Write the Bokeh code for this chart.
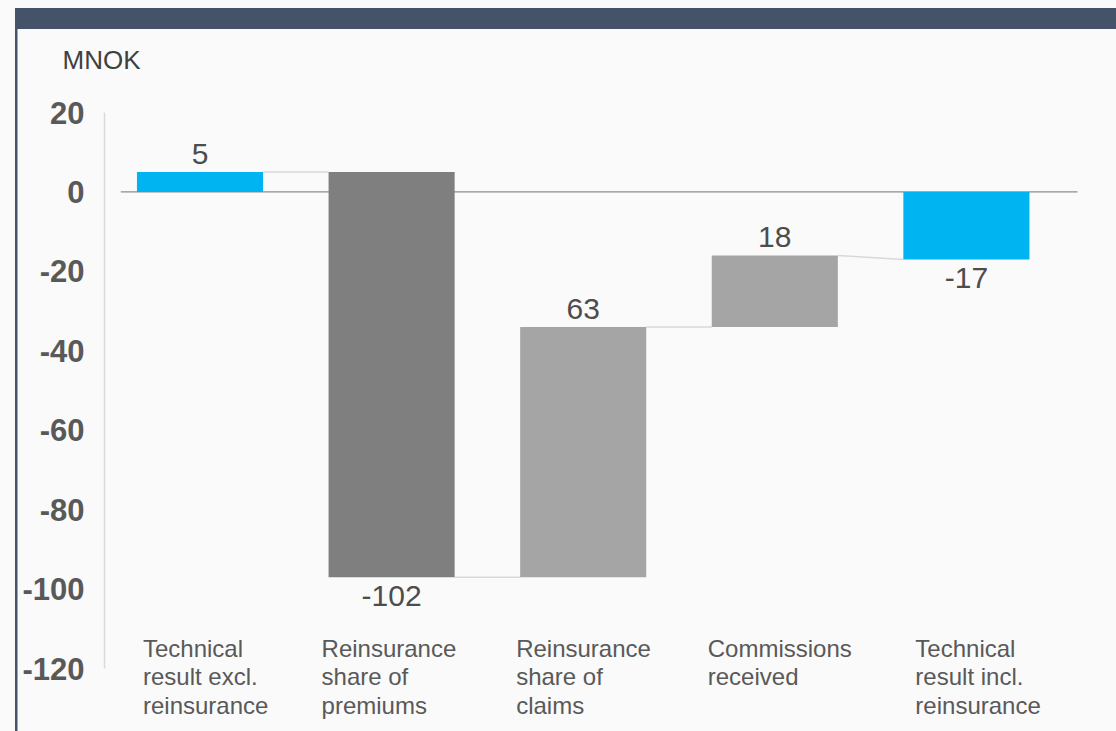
from bokeh.plotting import figure
from bokeh.models import Range1d, LinearAxis, FixedTicker, Title, ColumnDataSource
from bokeh.core.properties import value
from bokeh.embed import file_html
from bokeh.resources import INLINE

# ---------------- data ----------------
categories = [
    "Technical\nresult excl.\nreinsurance",
    "Reinsurance\nshare of\npremiums",
    "Reinsurance\nshare of\nclaims",
    "Commissions\nreceived",
    "Technical\nresult incl.\nreinsurance",
]
values = [5, -102, 63, 18, -17]
is_total = [True, False, False, False, True]
y_ticks = [-120, -100, -80, -60, -40, -20, 0, 20]
unit_label = "MNOK"

# ---------------- styles ----------------
bar_colors = ["#00b4f2", "#7f7f7f", "#a5a5a5", "#a5a5a5", "#00b4f2"]
label_dx = [6, -7, -4, -4, 12]          # px shift of category text from bar left
FONT = "Liberation Sans"
BAR_W = 0.658
HEADER = "#445369"
BG = "#fafafa"
W, H = 1116, 731
FRAME_LEFT, FRAME_TOP = 104, 90

# ---------------- waterfall geometry ----------------
bottoms, tops, ends = [], [], []
running = 0.0
for v, tot in zip(values, is_total):
    if tot:
        start, end = 0.0, v
    else:
        start, end = running, running + v
    running = end
    bottoms.append(min(start, end))
    tops.append(max(start, end))
    ends.append(end)

xs = list(range(len(values)))
src = ColumnDataSource(dict(x=xs, top=tops, bottom=bottoms, color=bar_colors))

# y scale: 20 -> px 112, -120 -> px 668
ppu = (668 - 112) / 140.0
y0_px = 112 + 20 * ppu
y_top = (y0_px - FRAME_TOP) / ppu
y_bot = (y0_px - H) / ppu
# x scale: category i center at px 199.5 + 191.6*i
step = 191.6
x_left = (FRAME_LEFT - 199.5) / step
x_right = (W - 199.5) / step

bg_css = (f"linear-gradient({HEADER},{HEADER}) 15px 8px / 1101px 21px no-repeat, "
          f"linear-gradient({HEADER},{HEADER}) 15px 29px / 2.5px 702px no-repeat, {BG}")

p = figure(width=W, height=H, output_backend="svg", toolbar_location=None,
           x_range=Range1d(x_left, x_right), y_range=Range1d(y_bot, y_top),
           x_axis_type=None, y_axis_type=None,
           min_border_left=FRAME_LEFT, min_border_right=0,
           min_border_top=FRAME_TOP, min_border_bottom=0,
           styles={"background": bg_css})
p.background_fill_color = BG
p.border_fill_alpha = 0
p.outline_line_color = None
p.xgrid.visible = False
p.ygrid.visible = False

p.title = Title(text=unit_label, align="left", offset=-42, standoff=32,
                text_font=FONT, text_font_size="26px", text_font_style="normal",
                text_color="#404040")

yaxis = LinearAxis(bounds=(min(y_ticks), max(y_ticks)))
yaxis.ticker = FixedTicker(ticks=y_ticks)
yaxis.major_label_overrides = {t: str(t) for t in y_ticks}
yaxis.axis_line_color = "#d9d9d9"
yaxis.axis_line_width = 1.5
yaxis.major_tick_line_color = None
yaxis.minor_tick_line_color = None
yaxis.major_label_standoff = 14
yaxis.major_label_text_font = FONT
yaxis.major_label_text_font_size = "31px"
yaxis.major_label_text_font_style = "bold"
yaxis.major_label_text_color = "#595959"
p.add_layout(yaxis, "left")

# zero line
p.segment(x0=[x_left + 0.085], y0=[0], x1=[len(values) - 1 + 0.58], y1=[0],
          line_color="#8c8c8c", line_width=1.3)

# connectors
cx0, cy0, cx1, cy1 = [], [], [], []
for i in range(len(values) - 1):
    cx0.append(i + BAR_W / 2)
    cy0.append(ends[i])
    cx1.append(i + 1 - BAR_W / 2)
    cy1.append(ends[i] if not is_total[i + 1] else ends[i + 1])
p.segment(x0=cx0, y0=cy0, x1=cx1, y1=cy1, line_color="#d9d9d9", line_width=1.5)

# bars
p.vbar(x="x", top="top", bottom="bottom", width=BAR_W, fill_color="color",
       line_color=None, source=src)

# value labels
up_x, up_y, up_t, dn_x, dn_y, dn_t = [], [], [], [], [], []
for i, v in enumerate(values):
    if v >= 0:
        up_x.append(i); up_y.append(tops[i]); up_t.append(str(v))
    else:
        dn_x.append(i); dn_y.append(bottoms[i]); dn_t.append(str(v))
p.text(x=up_x, y=up_y, text=up_t, text_align="center", text_baseline="middle",
       y_offset=-18, text_font=value(FONT), text_font_size="30px", text_color="#4d4d4d")
p.text(x=dn_x, y=dn_y, text=dn_t, text_align="center", text_baseline="middle",
       y_offset=19, text_font=value(FONT), text_font_size="30px", text_color="#4d4d4d")

# category labels (left aligned block under each bar)
cat_y = (y0_px - 634) / ppu
cat_src = ColumnDataSource(dict(x=[i - BAR_W / 2 for i in xs], y=[cat_y] * len(xs),
                                text=categories, dx=label_dx))
p.text(x="x", y="y", text="text", x_offset="dx", source=cat_src, text_align="left",
       text_baseline="top", text_line_height=1.06, text_font=value(FONT),
       text_font_size="24px", text_color="#595959")

open("out.html", "w").write(file_html(p, INLINE))
